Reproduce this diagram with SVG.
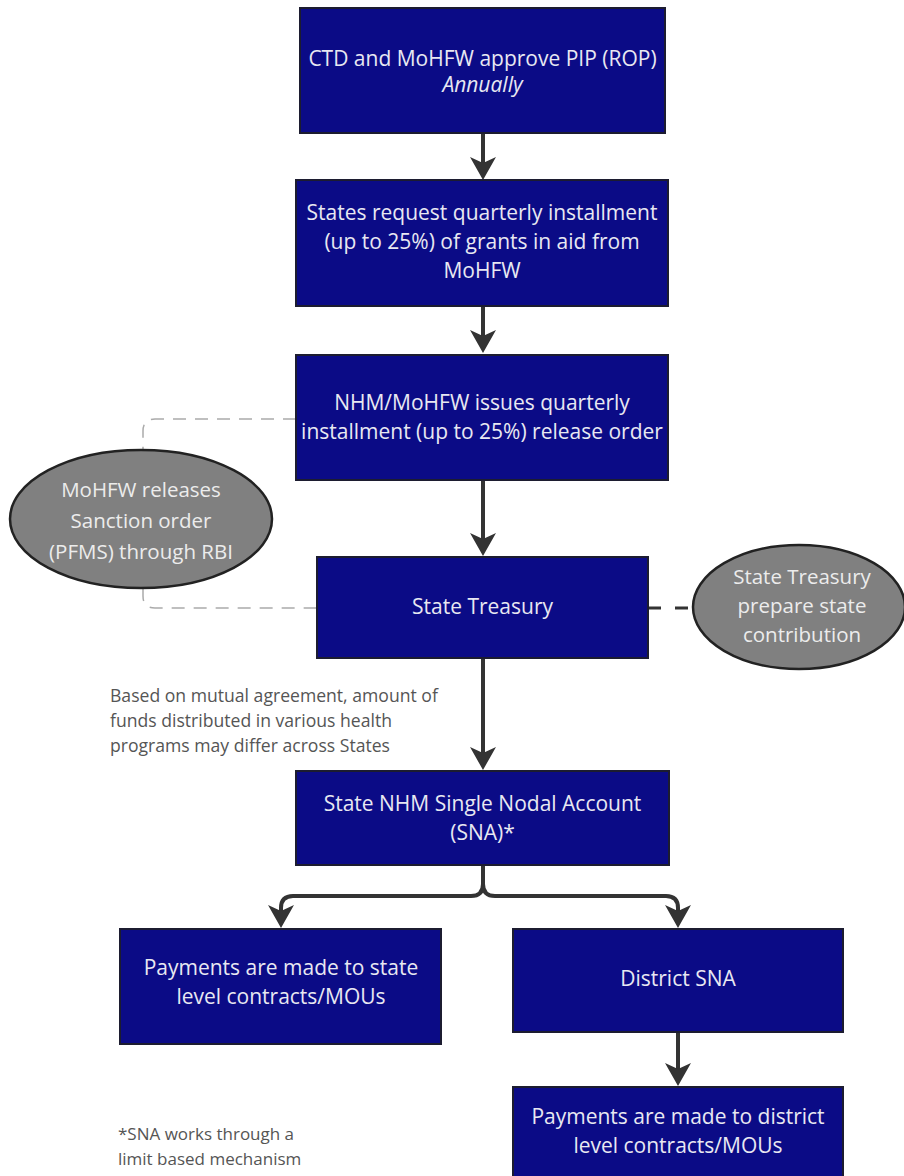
<svg xmlns="http://www.w3.org/2000/svg" width="904" height="1176" viewBox="0 0 904 1176">
<defs>
<style>
.box{fill:#0b0b86;stroke:#1c1c30;stroke-width:2}
.bt{font-family:"Open Sans","Liberation Sans",sans-serif;font-size:21px;fill:#e8e8f2;text-anchor:middle}
.ell{fill:#808080;stroke:#222;stroke-width:2.5}
.et{font-family:"Open Sans","Liberation Sans",sans-serif;font-size:20.5px;fill:#ececec;text-anchor:middle}
.note{font-family:"Open Sans","Liberation Sans",sans-serif;font-size:17.6px;fill:#555}
.fn{font-family:"Open Sans","Liberation Sans",sans-serif;font-size:17px;fill:#555}
.arr{fill:none;stroke:#333;stroke-width:4;marker-end:url(#ah)}
.dl{fill:none;stroke:#aaa;stroke-width:1.5;stroke-dasharray:13 9}
.dd{fill:none;stroke:#333;stroke-width:3;stroke-dasharray:13 14}
</style>
<marker id="ah" markerUnits="userSpaceOnUse" markerWidth="28" markerHeight="30" viewBox="0 -15 28 30" refX="15" refY="0" orient="auto">
<path d="M0,-13 L23,0 L0,13 L6,0 Z" fill="#333"/>
</marker>
</defs>
<rect width="904" height="1176" fill="#fff"/>

<g id="connectors">
<path class="arr" d="M483,133 L483,172"/>
<path class="arr" d="M483,306 L483,345"/>
<path class="arr" d="M483,480 L483,548"/>
<path class="arr" d="M483,658 L483,762"/>
<path class="arr" d="M483,865 L483,884 Q483,896 471,896 L293,896 Q281,896 281,908 L281,920"/>
<path class="arr" d="M483,865 L483,884 Q483,896 495,896 L666,896 Q678,896 678,908 L678,920"/>
<path class="arr" d="M678,1032 L678,1078"/>
<path class="dl" d="M296,419 L155,419 Q143,419 143,431 L143,450"/>
<path class="dl" d="M143,588 L143,596 Q143,608 155,608 L317,608"/>
<path class="dd" d="M648,608 L694,608"/>
</g>

<g id="n1">
<rect class="box" x="300" y="8" width="365" height="125"/>
<text class="bt" x="482.5" y="66">CTD and MoHFW approve PIP (ROP)</text>
<text class="bt" x="482.5" y="92" font-style="italic">Annually</text>
</g>
<g id="n2">
<rect class="box" x="296" y="180" width="372" height="126"/>
<text class="bt" x="482" y="220">States request quarterly installment</text>
<text class="bt" x="482" y="249">(up to 25%) of grants in aid from</text>
<text class="bt" x="482" y="278">MoHFW</text>
</g>
<g id="n3">
<rect class="box" x="296" y="355" width="372" height="125"/>
<text class="bt" x="482" y="410">NHM/MoHFW issues quarterly</text>
<text class="bt" x="482" y="439">installment (up to 25%) release order</text>
</g>
<g id="n4">
<rect class="box" x="317" y="557" width="331" height="101"/>
<text class="bt" x="482.5" y="614">State Treasury</text>
</g>
<g id="e1">
<ellipse class="ell" cx="141" cy="519" rx="131" ry="69"/>
<text class="et" x="141" y="497">MoHFW releases</text>
<text class="et" x="141" y="528">Sanction order</text>
<text class="et" x="141" y="559">(PFMS) through RBI</text>
</g>
<g id="e2">
<ellipse class="ell" cx="799" cy="607" rx="106" ry="62"/>
<text class="et" x="802" y="584">State Treasury</text>
<text class="et" x="802" y="613">prepare state</text>
<text class="et" x="802" y="642">contribution</text>
</g>
<g id="note1">
<text class="note" x="110" y="702">Based on mutual agreement, amount of</text>
<text class="note" x="110" y="727">funds distributed in various health</text>
<text class="note" x="110" y="752">programs may differ across States</text>
</g>
<g id="n5">
<rect class="box" x="296" y="771" width="373" height="94"/>
<text class="bt" x="482.5" y="811">State NHM Single Nodal Account</text>
<text class="bt" x="482.5" y="840">(SNA)*</text>
</g>
<g id="n6">
<rect class="box" x="120" y="929" width="321" height="115"/>
<text class="bt" x="281" y="975">Payments are made to state</text>
<text class="bt" x="281" y="1004">level contracts/MOUs</text>
</g>
<g id="n7">
<rect class="box" x="513" y="929" width="330" height="103"/>
<text class="bt" x="678" y="986">District SNA</text>
</g>
<g id="n8">
<rect class="box" x="513" y="1087" width="330" height="100"/>
<text class="bt" x="678" y="1124">Payments are made to district</text>
<text class="bt" x="678" y="1153">level contracts/MOUs</text>
</g>
<g id="note2">
<text class="fn" x="118" y="1140">*SNA works through a</text>
<text class="fn" x="118" y="1165">limit based mechanism</text>
</g>
</svg>
